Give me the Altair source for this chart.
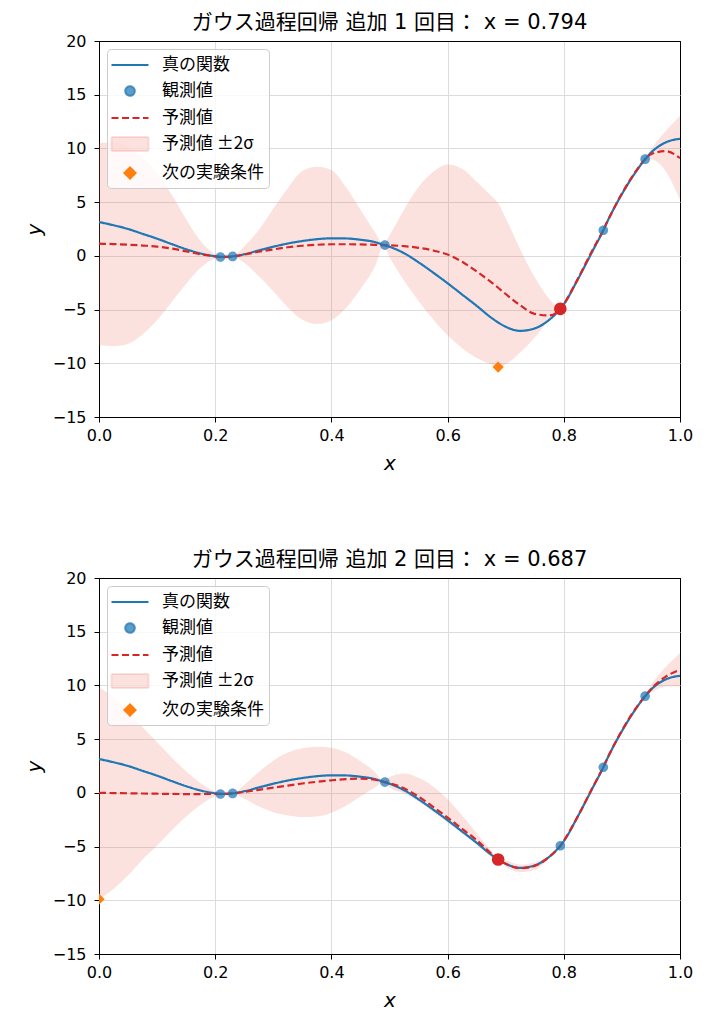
import altair as alt
import pandas as pd

# ---------------- data ----------------
X = [0.000, 0.025, 0.050, 0.075, 0.100, 0.125, 0.150, 0.175, 0.200, 0.210,
     0.220, 0.230, 0.250, 0.275, 0.300, 0.325, 0.350, 0.375, 0.400, 0.425,
     0.450, 0.475, 0.490, 0.500, 0.525, 0.550, 0.575, 0.600, 0.625, 0.650,
     0.675, 0.687, 0.700, 0.725, 0.750, 0.775, 0.794, 0.800, 0.825, 0.850,
     0.868, 0.875, 0.900, 0.925, 0.940, 0.950, 0.975, 1.000]

TRUE_Y = [3.15, 2.85, 2.50, 2.05, 1.60, 1.10, 0.62, 0.22, -0.04, -0.10,
          -0.10, -0.05, 0.15, 0.50, 0.85, 1.15, 1.38, 1.55, 1.63, 1.62,
          1.50, 1.28, 1.02, 0.85, 0.25, -0.60, -1.55, -2.55, -3.60, -4.65,
          -5.75, -6.20, -6.60, -6.98, -6.75, -5.95, -4.93, -4.50, -2.10, 0.50,
          2.38, 3.20, 5.75, 7.90, 9.00, 9.60, 10.55, 10.90]

MEAN_1 = [1.13, 1.10, 1.04, 0.96, 0.86, 0.68, 0.42, 0.15, -0.04, -0.10,
          -0.10, -0.05, 0.12, 0.38, 0.60, 0.80, 0.94, 1.03, 1.08, 1.08,
          1.06, 1.03, 1.00, 0.98, 0.90, 0.75, 0.50, 0.12, -0.55, -1.45,
          -2.45, -2.97, -3.55, -4.60, -5.40, -5.55, -4.95, -4.50, -2.05, 0.60,
          2.40, 3.20, 5.80, 7.95, 9.00, 9.45, 9.75, 9.10]
UPPER_1 = [10.50, 10.55, 10.20, 9.10, 7.70, 5.70, 3.40, 1.35, 0.16, -0.05,
           0.15, -0.02, 0.90, 2.40, 4.40, 6.30, 7.90, 8.30, 8.00, 6.40,
           4.30, 2.20, 1.05, 1.90, 4.30, 6.40, 7.80, 8.50, 8.10, 6.90,
           5.60, 4.90, 3.50, 0.60, -2.00, -4.00, -4.93, -4.30, -1.85, 0.80,
           2.42, 3.30, 6.00, 8.10, 9.02, 9.90, 11.60, 13.00]
LOWER_1 = [-8.30, -8.40, -8.20, -7.30, -6.00, -4.30, -2.60, -1.10, -0.25, -0.15,
           -0.35, -0.08, -0.65, -1.90, -3.30, -4.80, -5.95, -6.35, -6.00, -4.85,
           -3.10, -1.00, 0.95, -0.10, -2.30, -4.20, -5.90, -7.40, -8.60, -9.50,
           -10.10, -10.35, -10.10, -9.00, -7.60, -5.95, -4.97, -4.70, -2.25, 0.40,
           2.36, 3.10, 5.60, 7.80, 8.98, 9.00, 7.90, 5.20]

MEAN_2 = [0.00, -0.02, -0.04, -0.06, -0.08, -0.10, -0.11, -0.11, -0.10, -0.10,
          -0.09, -0.05, 0.08, 0.28, 0.48, 0.68, 0.87, 1.03, 1.17, 1.28,
          1.32, 1.22, 1.02, 0.90, 0.42, -0.35, -1.30, -2.30, -3.35, -4.40,
          -5.65, -6.20, -6.60, -7.02, -6.80, -5.95, -4.93, -4.45, -2.10, 0.55,
          2.40, 3.22, 5.80, 7.95, 9.02, 9.65, 10.80, 11.45]
UPPER_2 = [9.80, 8.90, 7.60, 6.10, 4.70, 3.30, 2.00, 0.90, 0.12, -0.05,
           0.08, -0.02, 0.75, 1.95, 3.00, 3.75, 4.15, 4.30, 4.20, 3.75,
           2.95, 1.95, 1.05, 1.45, 1.80, 1.40, 0.60, -0.60, -2.10, -3.75,
           -5.40, -6.18, -6.30, -6.67, -6.45, -5.80, -4.90, -4.35, -1.95, 0.70,
           2.42, 3.30, 5.90, 8.05, 9.05, 10.00, 11.70, 13.00]
LOWER_2 = [-9.90, -8.95, -7.70, -6.20, -4.90, -3.50, -2.20, -1.10, -0.32, -0.15,
           -0.25, -0.08, -0.55, -1.25, -1.80, -2.10, -2.25, -2.20, -1.85, -1.20,
           -0.35, 0.50, 0.98, 0.50, -0.05, -0.80, -1.75, -2.75, -3.75, -4.80,
           -5.95, -6.23, -6.90, -7.37, -7.15, -6.10, -4.96, -4.55, -2.25, 0.40,
           2.38, 3.15, 5.70, 7.85, 8.99, 9.30, 9.90, 9.90]

OBS_X = [0.209, 0.230, 0.492, 0.868, 0.940]
OBS_Y = [-0.10, -0.05, 1.00, 2.38, 9.00]
ADDED_X = [0.794, 0.687]
ADDED_Y = [-4.93, -6.20]
NEXT_X = [0.687, 0.000]
NEXT_Y = [-10.35, -9.90]

TITLES = ["ガウス過程回帰 追加 1 回目： x = 0.794",
          "ガウス過程回帰 追加 2 回目： x = 0.687"]
LABELS = ["真の関数", "観測値", "予測値", "予測値 ±2σ", "次の実験条件"]
COLORS = ["#1f77b4", "rgba(31,119,180,0.72)", "#d62728",
          "rgba(239,111,94,0.2)", "#ff7f0e"]
LINE_PATH = "M-1.85,0H1.85"
CIRCLE_PATH = "M-0.48,0A0.48,0.48 0 1,0 0.48,0A0.48,0.48 0 1,0 -0.48,0Z"
RECT_PATH = "M-1.85,-0.7H1.85V0.7H-1.85Z"
DIAMOND_PATH = "M0,-0.56L0.56,0L0,0.56L-0.56,0Z"
SHAPES = [LINE_PATH, CIRCLE_PATH, LINE_PATH, RECT_PATH, DIAMOND_PATH]
DASHES = [[1, 0], [1, 0], [7, 3.5], [1, 0], [1, 0]]
X_TICKS = [0.0, 0.2, 0.4, 0.6, 0.8, 1.0]
Y_TICKS = [-15, -10, -5, 0, 5, 10, 15, 20]

JP = "Noto Sans CJK JP"
LAT = "DejaVu Sans"
GRID = "#dcdcdc"

legend = alt.Legend(
    title=None, orient="top-left", offset=8,
    fillColor="rgba(255,255,255,0.8)", strokeColor="#cccccc",
    cornerRadius=4, padding=5, labelFont=JP, labelFontSize=17,
    labelColor="black", symbolSize=400, symbolStrokeWidth=2,
    symbolOpacity=1, symbolOffset=7, labelOffset=21, rowPadding=7,
)

color_enc = alt.Color("series:N", scale=alt.Scale(domain=LABELS, range=COLORS), legend=legend)
shape_enc = alt.Shape("series:N", scale=alt.Scale(domain=LABELS, range=SHAPES), legend=legend)
dash_enc = alt.StrokeDash("series:N", scale=alt.Scale(domain=LABELS, range=DASHES), legend=legend)

# grid lines that fall on the frame edges are drawn black (frame of the axes box)
x_grid = {"condition": {"test": "datum.value >= 1 || datum.value <= 0", "value": "black"},
          "value": GRID}
y_grid = {"condition": {"test": "datum.value >= 20 || datum.value <= -15", "value": "black"},
          "value": GRID}

x_axis = alt.Axis(values=X_TICKS, format=".1f", tickSize=5, labelPadding=5,
                  labelFlush=False, labelFont=LAT, labelFontSize=16, labelColor="black",
                  titleFont=LAT, titleFontSize=20, titleFontStyle="italic",
                  titleFontWeight="normal", titleColor="black", titlePadding=10,
                  gridColor=x_grid, domainColor="black", tickColor="black")
y_axis = alt.Axis(values=Y_TICKS, format="d", tickSize=5, labelPadding=8,
                  labelFont=LAT, labelFontSize=16, labelColor="black",
                  titleFont=LAT, titleFontSize=20, titleFontStyle="italic",
                  titleFontWeight="normal", titleColor="black", titlePadding=8,
                  gridColor=y_grid, domainColor="black", tickColor="black")
xs = alt.Scale(domain=[0, 1], nice=False, zero=False)
ys = alt.Scale(domain=[-15, 20], nice=False, zero=False)


def panel(i):
    mean = [MEAN_1, MEAN_2][i]
    upper = [UPPER_1, UPPER_2][i]
    lower = [LOWER_1, LOWER_2][i]
    obs_x = OBS_X + ADDED_X[:i]
    obs_y = OBS_Y + ADDED_Y[:i]

    band_df = pd.DataFrame({"x": X, "lo": lower, "hi": upper, "series": LABELS[3]})
    true_df = pd.DataFrame({"x": X, "y": TRUE_Y, "series": LABELS[0]})
    mean_df = pd.DataFrame({"x": X, "y": mean, "series": LABELS[2]})
    obs_df = pd.DataFrame({"x": obs_x, "y": obs_y, "series": LABELS[1]})
    new_df = pd.DataFrame({"x": [ADDED_X[i]], "y": [ADDED_Y[i]]})
    next_df = pd.DataFrame({"x": [NEXT_X[i]], "y": [NEXT_Y[i]], "series": LABELS[4]})

    X_ENC = alt.X("x:Q", scale=xs, axis=x_axis, title="x")
    Y_ENC = alt.Y("y:Q", scale=ys, axis=y_axis, title="y")
    band = alt.Chart(band_df).mark_area(interpolate="monotone", clip=True).encode(
        x=X_ENC, y=alt.Y("lo:Q", scale=ys, axis=y_axis, title="y"), y2="hi:Q",
        color=color_enc)
    true_line = alt.Chart(true_df).mark_line(interpolate="monotone", strokeWidth=2.2, clip=True).encode(
        x=X_ENC, y=Y_ENC, color=color_enc, strokeDash=dash_enc)
    mean_line = alt.Chart(mean_df).mark_line(interpolate="monotone", strokeWidth=2.2, clip=True).encode(
        x=X_ENC, y=Y_ENC, color=color_enc, strokeDash=dash_enc)
    obs = alt.Chart(obs_df).mark_point(filled=True, size=400, opacity=1, clip=True).encode(
        x=X_ENC, y=Y_ENC, color=color_enc, shape=shape_enc)
    new_pt = alt.Chart(new_df).mark_circle(size=160, color="#d62728", opacity=1, clip=True).encode(
        x=X_ENC, y=Y_ENC)
    nxt = alt.Chart(next_df).mark_point(filled=True, size=400, opacity=1, clip=True).encode(
        x=X_ENC, y=Y_ENC, color=color_enc, shape=shape_enc)

    return alt.layer(band, true_line, mean_line, obs, new_pt, nxt).properties(
        width=581, height=376,
        title=alt.TitleParams(TITLES[i], font=LAT + ", " + JP, fontSize=21,
                              fontWeight="normal", color="black", offset=0,
                              anchor="middle"),
    )


chart = alt.vconcat(panel(0), panel(1), spacing=74).resolve_scale(
    color="independent", shape="independent", strokeDash="independent"
).resolve_legend(
    color="independent", shape="independent", strokeDash="independent"
).properties(
    padding={"left": 15, "top": 3, "right": 5, "bottom": 2}
).configure_view(stroke="black", strokeWidth=1)

chart.save("out.html", embed_options={"renderer": "svg", "actions": False})
